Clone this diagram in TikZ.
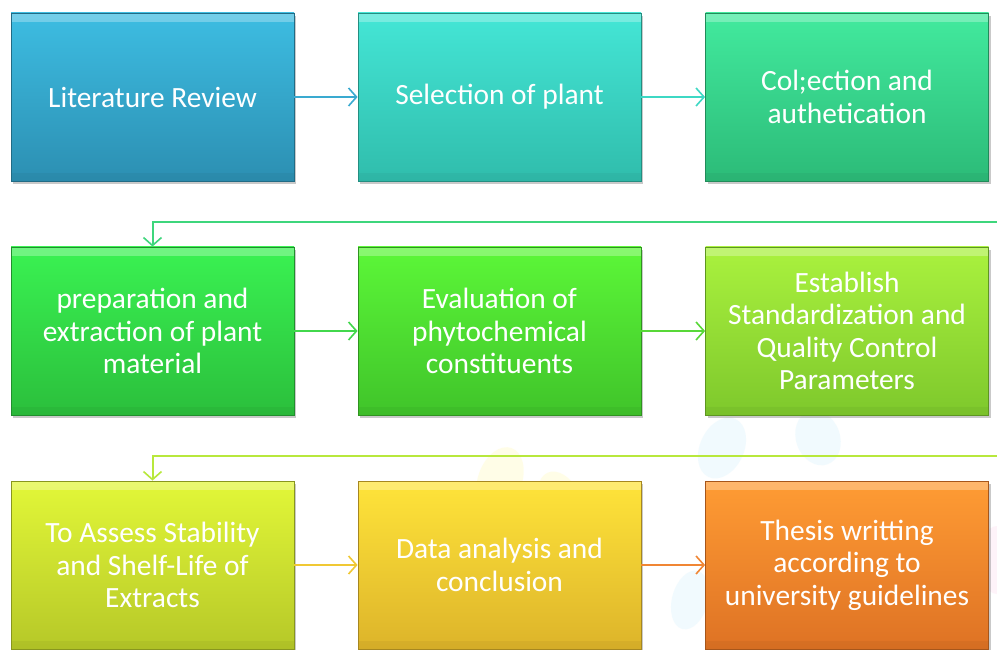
\documentclass[tikz,border=0pt]{standalone}
\usepackage{fontspec}
\setmainfont{Carlito}
\usetikzlibrary{arrows.meta,shadows}

% box colours: top / bottom of the vertical gradient
\definecolor{b1t}{HTML}{3DBDE2}\definecolor{b1b}{HTML}{2C8FB2}
\definecolor{b2t}{HTML}{44E6D6}\definecolor{b2b}{HTML}{30BDAC}
\definecolor{b3t}{HTML}{42EA9E}\definecolor{b3b}{HTML}{2CBB78}
\definecolor{b4t}{HTML}{3AF252}\definecolor{b4b}{HTML}{2BBF3C}
\definecolor{b5t}{HTML}{5CF738}\definecolor{b5b}{HTML}{40C42A}
\definecolor{b6t}{HTML}{AAF23E}\definecolor{b6b}{HTML}{7EC82C}
\definecolor{b7t}{HTML}{E2F738}\definecolor{b7b}{HTML}{B6C828}
\definecolor{b8t}{HTML}{FFE43A}\definecolor{b8b}{HTML}{DDB42A}
\definecolor{b9t}{HTML}{FF9C34}\definecolor{b9b}{HTML}{DE7224}
% connector colours
\definecolor{a1}{HTML}{3AAAD0}
\definecolor{a2}{HTML}{3ED8C4}
\definecolor{a3}{HTML}{3ED67C}
\definecolor{a4}{HTML}{42D84C}
\definecolor{a5}{HTML}{58D838}
\definecolor{a6}{HTML}{B8E83C}
\definecolor{a7}{HTML}{F0C834}
\definecolor{a8}{HTML}{F08634}

\tikzset{
  stepbox/.style n args={2}{
    rectangle, minimum width=283pt, minimum height=168pt,
    top color=#1, bottom color=#2,
    draw=#2!75!black, line width=0.8pt,
    drop shadow={shadow xshift=2pt, shadow yshift=-3pt, opacity=0.35, fill=black!60},
    path picture={
      \fill[white,opacity=0.28] (path picture bounding box.north west)
        rectangle ([yshift=-9pt]path picture bounding box.north east);
      \fill[black,opacity=0.04] (path picture bounding box.south west)
        rectangle ([yshift=8pt]path picture bounding box.south east);
    },
    text=white, align=center, font=\fontsize{29.4}{32.5}\selectfont,
    inner sep=4pt},
  conn/.style={line width=2pt, -{Straight Barb[length=8pt,width=18pt,line width=1.6pt]}},
  leaf/.style={opacity=0.13}
}

\begin{document}
\begin{tikzpicture}[x=1pt,y=-1pt]
\useasboundingbox (0,0) rectangle (997,650);
\fill[white] (0,0) rectangle (997,650);

% faint leaf watermark in the background
\fill[leaf, fill=cyan!40] (722,448) ellipse [x radius=22, y radius=32, rotate=-25];
\fill[leaf, fill=cyan!40] (818,438) ellipse [x radius=22, y radius=28, rotate=20];
\fill[leaf, fill=cyan!40] (690,600) ellipse [x radius=18, y radius=30, rotate=-15];
\fill[leaf, fill=yellow!70] (500,480) ellipse [x radius=22, y radius=34, rotate=-20];
\fill[leaf, fill=yellow!70] (560,500) ellipse [x radius=20, y radius=30, rotate=25];
\fill[leaf, fill=magenta!35] (997,560) ellipse [x radius=18, y radius=34, rotate=0];

% process steps
\node[stepbox={b1t}{b1b}] (lit)  at (152.5,97)  {Literature Review};
\node[stepbox={b2t}{b2b}] (sel)  at (499.5,97)  {Selection of plant};
\node[stepbox={b3t}{b3b}] (col)  at (847,97)    {Col;ection and\\authetication};
\node[stepbox={b4t}{b4b}] (prep) at (152.5,331) {preparation and\\extraction of plant\\material};
\node[stepbox={b5t}{b5b}] (eval) at (499.5,331) {Evaluation of\\phytochemical\\constituents};
\node[stepbox={b6t}{b6b}] (std)  at (847,331)   {Establish\\Standardization and\\Quality Control\\Parameters};
\node[stepbox={b7t}{b7b}] (stab) at (152.5,565) {To Assess Stability\\and Shelf-Life of\\Extracts};
\node[stepbox={b8t}{b8b}] (data) at (499.5,565) {Data analysis and\\conclusion};
\node[stepbox={b9t}{b9b}] (thes) at (847,565)   {Thesis writting\\according to\\university guidelines};

% return lines entering from the right edge
\coordinate (ret1) at (997,222);
\coordinate (ret2) at (997,456);

% connectors
\draw[conn, a1] (lit) -- (sel);
\draw[conn, a2] (sel) -- (col);
\draw[conn, a3] (ret1) -| (prep.north);
\draw[conn, a4] (prep) -- (eval);
\draw[conn, a5] (eval) -- (std);
\draw[conn, a6] (ret2) -| (stab.north);
\draw[conn, a7] (stab) -- (data);
\draw[conn, a8] (data) -- (thes);
\end{tikzpicture}
\end{document}
